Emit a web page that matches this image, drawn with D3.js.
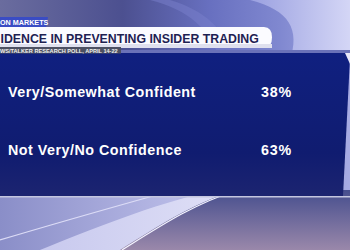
<!DOCTYPE html>
<html>
<head>
<meta charset="utf-8">
<script src="https://cdn.jsdelivr.net/npm/d3@7"></script>
<style>
  body { margin: 0; background: #1a2080; }
  svg { display: block; }
  text { font-family: 'Liberation Sans', Arial, sans-serif; font-weight: bold; }
</style>
</head>
<body>
<div id="target"></div>
<script>
const width = 350;
const height = 250;

const tag = 'ON MARKETS';
const title = 'IDENCE IN PREVENTING INSIDER TRADING';
const source = 'WS/TALKER RESEARCH POLL, APRIL 14-22';
const categories = ['Very/Somewhat Confident', 'Not Very/No Confidence'];
const values = [38, 63];

const svg = d3.select('#target').append('svg').attr('width', width).attr('height', height);
const defs = svg.append('defs');

function gradient(id, stops, x2, y2) {
  const g = defs.append('linearGradient').attr('id', id)
    .attr('x1', 0).attr('y1', 0).attr('x2', x2).attr('y2', y2);
  stops.forEach(([o, c]) => g.append('stop').attr('offset', o).attr('stop-color', c));
}

gradient('top', [[0, '#6a6c9e'], [0.35, '#4c5090'], [0.6, '#6870c0'], [0.8, '#8088d0'], [1, '#a8ace4']], 1, 0);
gradient('curve', [[0, '#9aa0e0'], [1, '#d4d6f6']], 1, 0);
gradient('bottom', [[0, '#8a8ec8'], [0.5, '#b8bae6'], [1, '#4a5090']], 1, 0);
gradient('streak', [[0, '#c8c9ee'], [1, '#eeeefc']], 1, 0);
gradient('dark', [[0, '#464e8e'], [1, '#9a88aa']], 0, 1);
gradient('panel', [[0, '#102080'], [0.7, '#101c70'], [1, '#1c2470']], 0, 1);

// background
svg.append('rect').attr('width', width).attr('height', height).attr('fill', 'url(#top)');
svg.append('path').attr('d', 'M250,0 C290,10 300,30 290,60 L350,60 L350,0 Z').attr('fill', 'url(#curve)');
svg.append('path').attr('d', 'M150,0 C190,10 210,30 220,60 L235,60 C225,30 205,10 170,0 Z').attr('fill', '#7a80cc').attr('opacity', 0.5);

svg.append('rect').attr('y', 190).attr('width', width).attr('height', 60).attr('fill', 'url(#bottom)');
svg.append('path').attr('d', 'M40,250 C90,230 150,205 215,190 L350,190 L350,250 Z').attr('fill', 'url(#streak)');
svg.append('path').attr('d', 'M120,250 C160,225 190,205 235,190 L350,190 L350,250 Z').attr('fill', 'url(#dark)');
svg.append('path').attr('d', 'M0,240 C60,222 110,208 160,194').attr('fill', 'none').attr('stroke', '#dcdcf6').attr('stroke-width', 1.2);
svg.append('path').attr('d', 'M122,250 C162,225 192,205 237,190').attr('fill', 'none').attr('stroke', '#f4f4ff').attr('stroke-width', 1.2);

// navy panel
svg.append('rect').attr('y', 50).attr('width', width).attr('height', 4).attr('fill', '#6a72b8');
svg.append('path').attr('d', 'M0,53 L350,53 L350,58 L343,196 L0,196 Z').attr('fill', 'url(#panel)');
svg.append('path').attr('d', 'M350,53 L345,53 L350,64 Z').attr('fill', '#e8e8fa');
svg.append('rect').attr('y', 196).attr('width', width).attr('height', 1.5).attr('fill', '#c4c6e0');

// header
svg.append('path').attr('d', 'M0,27 L264,27 Q272,27 272,37.5 Q272,48 264,48 L0,48 Z').attr('fill', '#fbfbff');
svg.append('rect').attr('y', 44).attr('width', 272).attr('height', 4).attr('fill', '#dfe0ee');
svg.append('text').attr('x', 0.5).attr('y', 42.5)
  .attr('font-size', 12.3).attr('fill', '#1e2152').text(title);

svg.append('path').attr('d', 'M0,17 L48,17 L46,27 L0,27 Z').attr('fill', '#3a4cc4');
svg.append('text').attr('x', 0).attr('y', 25.4).attr('font-size', 7.2).attr('fill', '#ffffff').text(tag);

svg.append('rect').attr('y', 47).attr('width', 121).attr('height', 6.5).attr('fill', '#4c5062');
svg.append('text').attr('x', 0).attr('y', 52.7).attr('font-size', 5.6).attr('fill', '#f0f0f0').text(source);

// rows
const y = d3.scaleBand().domain(categories).range([63, 179]).padding(0);

const row = svg.selectAll('.row').data(categories).enter().append('g').attr('class', 'row')
  .attr('transform', (d) => `translate(0,${y(d) + y.bandwidth() / 2 + 5})`);

row.append('text').attr('x', 8).attr('font-size', 14.3).attr('letter-spacing', 0.5)
  .attr('fill', '#ffffff').text((d) => d);
row.append('text').attr('x', 261).attr('font-size', 14.3).attr('letter-spacing', 0.8)
  .attr('fill', '#ffffff').text((d, i) => values[i] + '%');
</script>
</body>
</html>
